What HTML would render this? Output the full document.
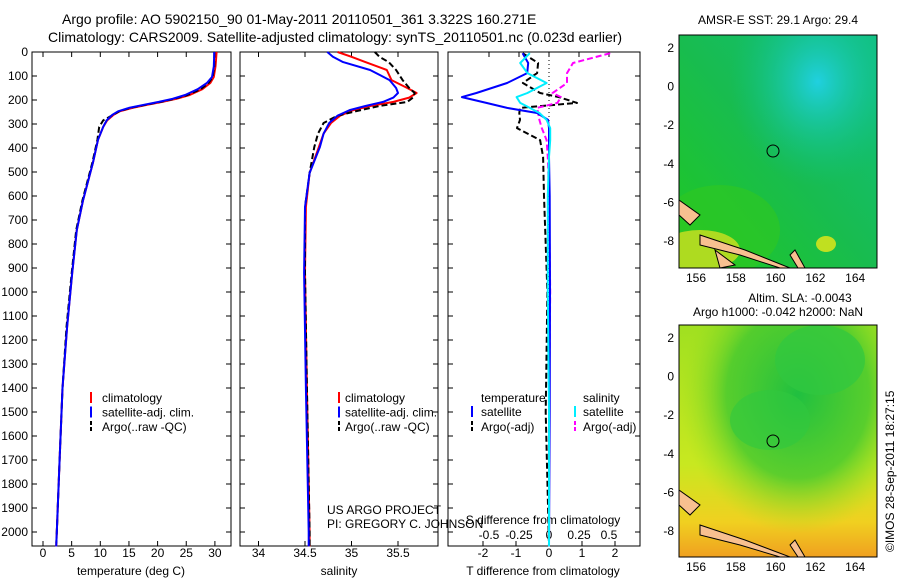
<!DOCTYPE html>
<html><head><meta charset="utf-8"><style>
body{margin:0;background:#fff}
svg{display:block;font-family:"Liberation Sans",sans-serif;font-size:12px}
</style></head><body>
<svg id="fig" width="900" height="580" viewBox="0 0 900 580">
<defs>
<radialGradient id="sstCyan" cx="0.7" cy="0.2" r="0.45"><stop offset="0" stop-color="#20d0e0"/><stop offset="1" stop-color="#10c080" stop-opacity="0"/></radialGradient>
<linearGradient id="sstBase" x1="0" y1="1" x2="1" y2="0"><stop offset="0" stop-color="#20c820"/><stop offset="0.5" stop-color="#18bc50"/><stop offset="1" stop-color="#10c080"/></linearGradient>
<linearGradient id="slaBase" x1="0" y1="0" x2="0" y2="1"><stop offset="0" stop-color="#a0e020"/><stop offset="0.6" stop-color="#c8e820"/><stop offset="0.85" stop-color="#f0d020"/><stop offset="1" stop-color="#f0a020"/></linearGradient>
<radialGradient id="slaGreen" cx="0.6" cy="0.3" r="0.6"><stop offset="0" stop-color="#20c040"/><stop offset="0.6" stop-color="#40c830" stop-opacity="0.8"/><stop offset="1" stop-color="#a0e020" stop-opacity="0"/></radialGradient>
<clipPath id="m1"><rect x="679" y="35" width="198" height="233"/></clipPath>
<clipPath id="m2"><rect x="679" y="325" width="198" height="232"/></clipPath>
</defs>
<text x="62" y="24" font-size="14">Argo profile: AO 5902150_90 01-May-2011 20110501_361 3.322S 160.271E</text>
<text x="48" y="42" font-size="14">Climatology: CARS2009. Satellite-adjusted climatology: synTS_20110501.nc (0.023d earlier)</text>
<g id="plots"></g>
<g>
<text x="778" y="24" text-anchor="middle">AMSR-E SST: 29.1 Argo: 29.4</text>
<g clip-path="url(#m1)">
<rect x="679" y="35" width="198" height="233" fill="url(#sstBase)"/>
<rect x="679" y="35" width="198" height="233" fill="url(#sstCyan)"/>
<ellipse cx="720" cy="230" rx="60" ry="45" fill="#30c820" opacity="0.6"/>
<ellipse cx="700" cy="250" rx="40" ry="20" fill="#d0e020" opacity="0.8"/>
<ellipse cx="826" cy="244" rx="10" ry="8" fill="#c0e020"/>
<path d="M679,200 L700,215 L690,225 L679,215Z M700,235 L745,250 L790,268 L780,268 L740,255 L700,245Z M795,250 L805,268 L798,268 L790,255Z M715,250 L735,265 L720,268 Z" fill="#f8c090" stroke="#000" stroke-width="1"/>
</g>
<rect x="679" y="35" width="198" height="233" fill="none" stroke="#000"/>
<circle cx="773" cy="151" r="6" fill="none" stroke="#000"/>
</g>
<g>
<text x="800" y="302" text-anchor="middle">Altim. SLA: -0.0043</text>
<text x="778" y="316" text-anchor="middle">Argo h1000: -0.042 h2000: NaN</text>
<g clip-path="url(#m2)">
<rect x="679" y="325" width="198" height="232" fill="url(#slaBase)"/>
<rect x="679" y="325" width="198" height="232" fill="url(#slaGreen)"/>
<ellipse cx="820" cy="360" rx="45" ry="35" fill="#30c840" opacity="0.7"/>
<ellipse cx="770" cy="420" rx="40" ry="30" fill="#30c840" opacity="0.6"/>
<path d="M679,490 L700,505 L690,515 L679,505Z M700,525 L745,540 L790,557 L780,557 L740,545 L700,535Z M795,540 L805,557 L798,557 L790,545Z" fill="#f8c090" stroke="#000" stroke-width="1"/>
</g>
<rect x="679" y="325" width="198" height="232" fill="none" stroke="#000"/>
<circle cx="773" cy="441" r="6" fill="none" stroke="#000"/>
</g>
<text transform="translate(894,552) rotate(-90)">©IMOS 28-Sep-2011 18:27:15</text>
</svg>
<script>
const depths=[0,60,104,129,155,179,195,208,220,233,247,262,285,312,366,462,617,742,921,1146,1400,1700,2000,2060];
const tempClim=[30.3,30.1,29.8,29.2,27.8,25.6,23.3,20.8,18.2,15.6,13.4,12.3,11.2,10.5,9.6,8.7,7.0,5.9,5.1,4.2,3.4,2.9,2.4,2.3];
const tempSat=[29.9,29.8,29.5,28.6,27.0,24.8,22.6,20.2,17.6,15.0,13.1,12.1,11.1,10.5,9.6,8.7,7.0,5.9,5.1,4.2,3.4,2.9,2.4,2.3];
const tempArgo=[29.9,29.9,29.6,28.9,27.5,25.2,22.9,20.5,17.9,15.2,13.3,12.2,10.5,9.8,9.5,8.6,6.9,5.8,5.0,4.1,3.4,2.9,2.4,2.3];
const salDepths=[0,20,42,75,117,150,171,190,208,225,242,265,296,340,396,504,646,920,1400,2000,2060];
const salClim=[34.85,35.0,35.15,35.38,35.43,35.6,35.7,35.62,35.45,35.2,35.02,34.88,34.78,34.7,34.65,34.55,34.51,34.5,34.52,34.55,34.55];
const salSat=[34.74,34.8,34.91,35.2,35.41,35.48,35.5,35.45,35.34,35.15,34.98,34.85,34.76,34.7,34.66,34.55,34.5,34.49,34.51,34.54,34.54];
const salArgo=[35.25,35.3,35.4,35.48,35.55,35.62,35.68,35.66,35.6,35.3,35.1,34.85,34.7,34.64,34.6,34.55,34.5,34.5,34.52,34.55,34.55];
const diffDepths=[5,46,88,129,171,188,212,233,254,283,317,367,437,600,1000,1500,2060];
const tDiffSat=[-0.8,-0.63,-0.66,-1.27,-2.2,-2.64,-1.9,-1.27,-0.36,-0.03,0,0,0,0.02,0.03,0.02,0];
const tDiffArgo=[-0.8,-0.33,-0.36,-0.79,-0.27,0.3,0.85,-0.88,-0.9,-0.88,-0.97,-0.27,-0.18,-0.15,-0.05,-0.1,0];
const sDiffSat=[-0.16,-0.24,-0.18,-0.02,-0.18,-0.27,-0.24,-0.16,-0.08,-0.02,0.01,0.01,0,-0.01,-0.01,0,0];
const sDiffArgo=[0.51,0.2,0.15,0.15,0.03,0.1,0.07,-0.1,-0.09,-0.08,-0.06,-0.02,-0.01,0,0.01,0,0];
const depthTicks=[0,100,200,300,400,500,600,700,800,900,1000,1100,1200,1300,1400,1500,1600,1700,1800,1900,2000];
const tempTicks=[0,5,10,15,20,25,30];
const salTicks=[34,34.5,35,35.5];
const tDiffTicks=[-2,-1,0,1,2];
const sDiffTicks=[-0.5,-0.25,0,0.25,0.5];
const sDiffTickLabels=["-0.5","-0.25","0","0.25","0.5"];

const NS='http://www.w3.org/2000/svg';
const G=document.getElementById('plots');
function mk(tag,attrs,parent){const e=document.createElementNS(NS,tag);for(const k in attrs)e.setAttribute(k,attrs[k]);(parent||G).appendChild(e);return e;}
const TOP=52,BOT=546;
const yD=d=>TOP+d*0.24;
const xT=t=>43+t*5.73;
const xS=s=>305+(s-34.5)*93;
const xTd=t=>549+t*33;
const xSd=s=>549+s*120;

function frame(x0,x1,name){
  const r=mk('rect',{x:x0,y:TOP,width:x1-x0,height:BOT-TOP,fill:'none',stroke:'#000'});
  
  
  depthTicks.forEach(d=>{mk('line',{x1:x0,x2:x0+5,y1:yD(d),y2:yD(d),stroke:'#000'});mk('line',{x1:x1-5,x2:x1,y1:yD(d),y2:yD(d),stroke:'#000'});});
}
function line(xs,ds,fx,color,dash,name){
  const p=xs.map((v,i)=>fx(v).toFixed(1)+','+yD(ds[i]).toFixed(1)).join(' ');
  const e=mk('polyline',{points:p,fill:'none',stroke:color,'stroke-width':2,'stroke-linejoin':'round'});
  if(dash)e.setAttribute('stroke-dasharray',dash);
  
  
}
function xticks(ticks,labels,fx,x0,x1,ly,top){
  ticks.forEach((t,i)=>{const x=fx(t);
    mk('line',{x1:x,x2:x,y1:BOT-5,y2:BOT,stroke:'#000'});
    if(top)mk('line',{x1:x,x2:x,y1:TOP,y2:TOP+5,stroke:'#000'});
    const tx=mk('text',{x:x,y:ly,'text-anchor':'middle'});tx.textContent=labels[i];
    
    
  });
}
function txt(x,y,s,name,anchor){const t=mk('text',{x:x,y:y});if(anchor)t.setAttribute('text-anchor',anchor);t.textContent=s;
  
  
  return t;}
function legMark(x,y,color,dash){const e=mk('line',{x1:x,x2:x,y1:y-10,y2:y+1,stroke:color,'stroke-width':2});if(dash)e.setAttribute('stroke-dasharray',dash);}

frame(32,231,'temperature-axes');
depthTicks.forEach(d=>{txt(28,yD(d)+4,String(d),'y-tick-label','end');});
xticks(tempTicks,tempTicks.map(String),xT,32,231,557,true);
txt(131,575,'temperature (deg C)','x-axis-title-temperature','middle');
line(tempClim,depths,xT,'#f00',null,'temp-climatology');
line(tempArgo,depths,xT,'#000','6,3','temp-argo');
line(tempSat,depths,xT,'#00f',null,'temp-satellite');
[['climatology','#f00'],['satellite-adj. clim.','#00f'],['Argo(..raw -QC)','#000']].forEach((l,i)=>{const y=402+i*14.5;legMark(91,y,l[1],i==2?'4,2':null);txt(102,y,l[0],'legend-entry');});

frame(240,438,'salinity-axes');
xticks(salTicks,['34','34.5','35','35.5'],xS,240,438,557,true);
txt(339,575,'salinity','x-axis-title-salinity','middle');
line(salClim,salDepths,xS,'#f00',null,'sal-climatology');
line(salArgo,salDepths,xS,'#000','6,3','sal-argo');
line(salSat,salDepths,xS,'#00f',null,'sal-satellite');
[['climatology','#f00'],['satellite-adj. clim.','#00f'],['Argo(..raw -QC)','#000']].forEach((l,i)=>{const y=402+i*14.5;legMark(339,y,l[1],i==2?'4,2':null);txt(345,y,l[0],'legend-entry');});
txt(327,514,'US ARGO PROJECT','project-label');
txt(327,528,'PI: GREGORY C. JOHNSON','pi-label');

frame(448,640,'difference-axes');
mk('line',{x1:549,x2:549,y1:TOP,y2:BOT,stroke:'#000','stroke-dasharray':'1,3'});
xticks(tDiffTicks,tDiffTicks.map(String),xTd,448,640,557,false);
sDiffTicks.forEach((t,i)=>{const x=xSd(t);mk('line',{x1:x,x2:x,y1:TOP,y2:TOP+5,stroke:'#000'});txt(x,539,sDiffTickLabels[i],'s-diff-tick-label','middle');});
txt(543,524,'S difference from climatology','s-diff-axis-title','middle');
txt(543,575,'T difference from climatology','t-diff-axis-title','middle');
line(tDiffArgo,diffDepths,xTd,'#000','6,3','tdiff-argo');
line(sDiffArgo,diffDepths,xSd,'#f0f','6,3','sdiff-argo');
line(tDiffSat,diffDepths,xTd,'#00f',null,'tdiff-satellite');
line(sDiffSat,diffDepths,xSd,'#0ef',null,'sdiff-satellite');
txt(481,402,'temperature','legend-header-temperature');
txt(583,402,'salinity','legend-header-salinity');
legMark(472,416,'#00f');txt(481,416,'satellite','legend-entry');
legMark(472,431,'#000','4,2');txt(481,431,'Argo(-adj)','legend-entry');
legMark(575,416,'#0ef');txt(583,416,'satellite','legend-entry');
legMark(575,431,'#f0f','4,2');txt(583,431,'Argo(-adj)','legend-entry');

const lonTicks=[156,158,160,162,164];
const latTicks=[2,0,-2,-4,-6,-8];
const xLon=l=>696+(l-156)*19.9;
function mapAxes(y0,y1,latTop){
  const yLat=la=>latTop+(2-la)*19.3;
  lonTicks.forEach(l=>{const x=xLon(l);mk('line',{x1:x,x2:x,y1:y0,y2:y0+4,stroke:'#000'});mk('line',{x1:x,x2:x,y1:y1-4,y2:y1,stroke:'#000'});txt(x,y1+14,String(l),'lon-tick-label','middle');});
  latTicks.forEach(la=>{const y=yLat(la);mk('line',{x1:679,x2:683,y1:y,y2:y,stroke:'#000'});mk('line',{x1:873,x2:877,y1:y,y2:y,stroke:'#000'});txt(674,y+4,String(la),'lat-tick-label','end');});
}
mapAxes(35,268,48);
mapAxes(325,557,338);
</script>
</body></html>
